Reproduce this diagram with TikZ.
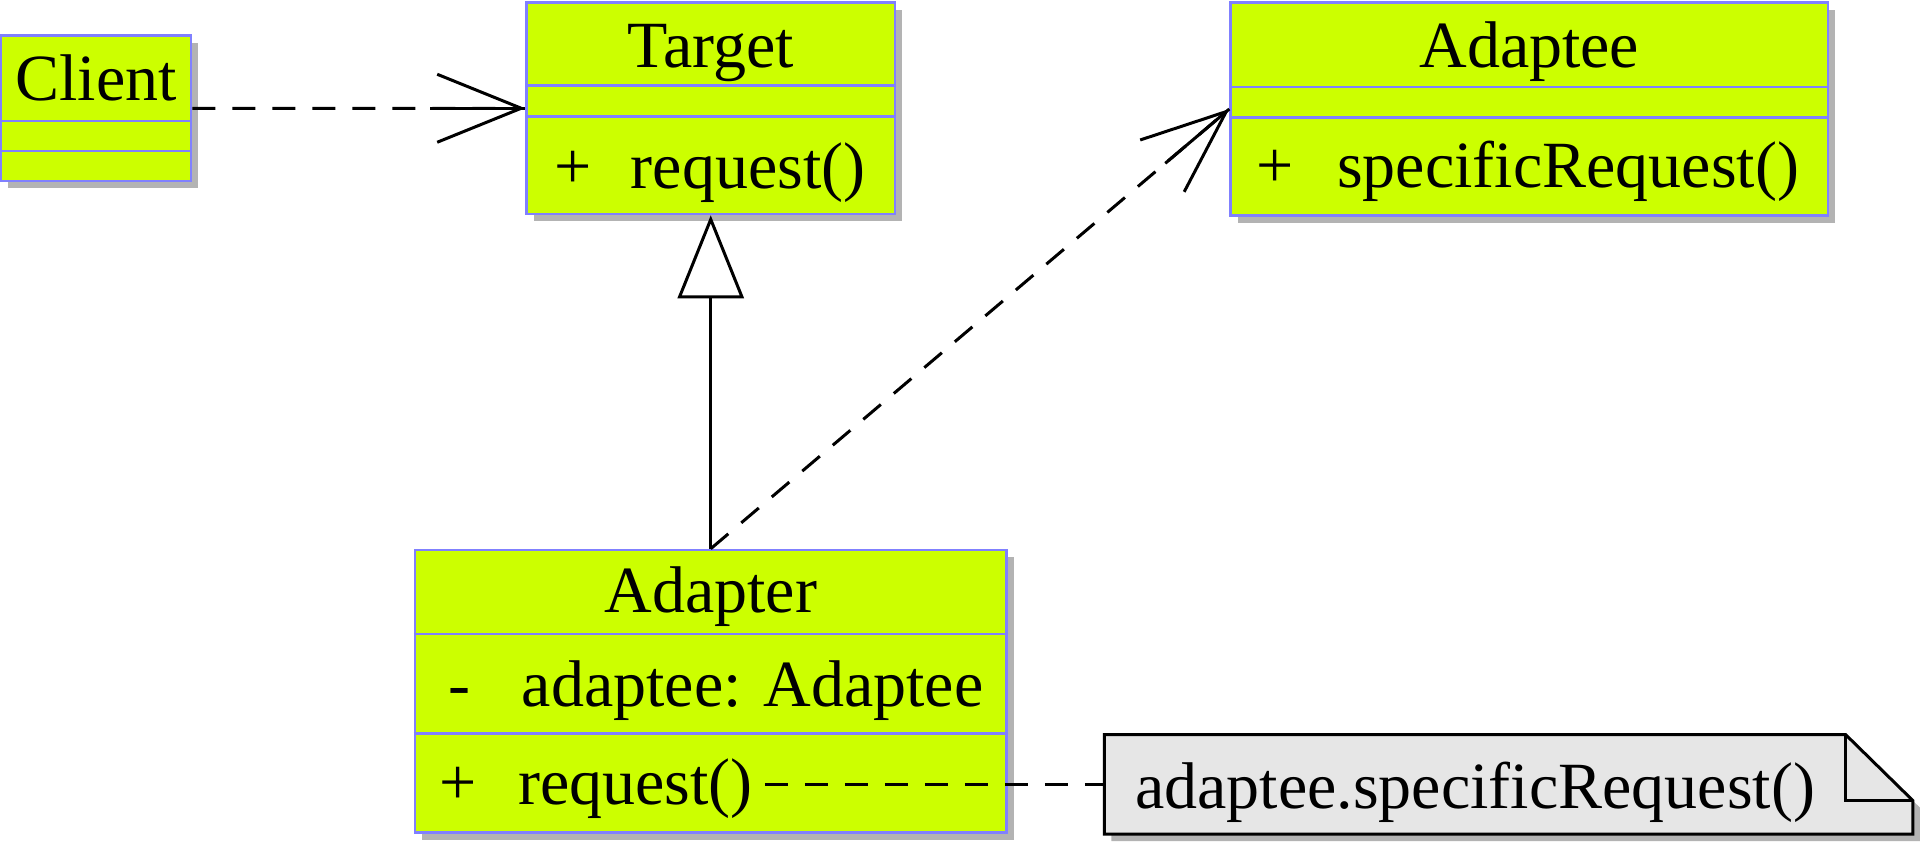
\documentclass[tikz,border=0pt]{standalone}
\usepackage{fontspec}
\setmainfont{Liberation Serif}
\usetikzlibrary{shadows,arrows.meta,calc}
\definecolor{clsfill}{HTML}{CCFF00}
\definecolor{clsborder}{HTML}{8080FF}
\definecolor{notefill}{HTML}{E6E6E6}
\definecolor{shadowgray}{HTML}{B3B3B3}
\begin{document}
\begin{tikzpicture}[x=1pt,y=-1pt,
  classbox/.style={draw=clsborder, fill=clsfill, line width=2.6pt, inner sep=0pt,
    drop shadow={shadow xshift=7pt, shadow yshift=-7pt, fill=shadowgray, opacity=1}},
  sepline/.style={draw=clsborder, line width=2.6pt},
  txt/.style={font=\fontsize{66}{79}\selectfont, inner sep=0pt},
  conn/.style={line width=3pt, black},
  dep/.style={conn, dash pattern=on 23pt off 17pt},
  opentip/.style={-{Straight Barb[length=84pt, width=68pt, line width=3pt]}},
  inherit/.style={-{Triangle[open, length=83pt, width=66pt, line width=3pt, fill=white]}}
]
\useasboundingbox (0,0) rectangle (1920,841);

% Client
\node[classbox, minimum width=190pt, minimum height=145.5pt] (client) at (96,108.3) {};
\draw[sepline] (client.west |- 0,121) -- (client.east |- 0,121);
\draw[sepline] (client.west |- 0,151) -- (client.east |- 0,151);
\node[txt, anchor=base] (clientname) at (96,100.4) {Client};

% Target
\node[classbox, minimum width=368.5pt, minimum height=211.5pt] (target) at (710.75,108.25) {};
\draw[sepline] (target.west |- 0,85.7) -- (target.east |- 0,85.7);
\draw[sepline] (target.west |- 0,116.3) -- (target.east |- 0,116.3);
\node[txt, anchor=base] (targetname) at (710.75,67.3) {Target};
\node[txt, anchor=base] (targetplus) at (573,188.6) {+};
\node[txt, anchor=base west] (targetreq) at (630.6,188.6) {request()};

% Adaptee
\node[classbox, minimum width=597.4pt, minimum height=213pt] (adaptee) at (1529.3,109) {};
\draw[sepline] (adaptee.west |- 0,87) -- (adaptee.east |- 0,87);
\draw[sepline] (adaptee.west |- 0,117.5) -- (adaptee.east |- 0,117.5);
\node[txt, anchor=base] (adapteename) at (1529.3,67.3) {Adaptee};
\node[txt, anchor=base] (adapteeplus) at (1274.7,187.4) {+};
\node[txt, anchor=base west] (adapteereq) at (1337,187.4) {specificRequest()};

% Adapter
\node[classbox, minimum width=591.5pt, minimum height=282.7pt] (adapter) at (710.75,691.35) {};
\draw[sepline] (adapter.west |- 0,634) -- (adapter.east |- 0,634);
\draw[sepline] (adapter.west |- 0,733.5) -- (adapter.east |- 0,733.5);
\node[txt, anchor=base] (adaptername) at (710.75,612.3) {Adapter};
\node[txt, anchor=base] (adapterminus) at (459,706.5) {-};
\node[txt, anchor=base west] (adapterattr) at (521.6,706.5) {adaptee: Adaptee};
\node[txt, anchor=base] (adapterplus) at (458,804.5) {+};
\node[txt, anchor=base west] (adapterreq) at (518,804.5) {request()};

% Note
\node[inner sep=0pt, minimum width=808.2pt, minimum height=99.3pt] (note) at (1508.6,784.35) {};
\fill[shadowgray] ($(note.north west)+(7,7)$) -- ($(note.north east)+(-60.4,7)$)
  -- ($(note.north east)+(7,73.1)$) -- ($(note.south east)+(7,7)$) -- ($(note.south west)+(7,7)$) -- cycle;
\draw[line width=3pt, fill=notefill] (note.north west) -- ($(note.north east)+(-67.4,0)$)
  -- ($(note.north east)+(0,66.1)$) -- (note.south east) -- (note.south west) -- cycle;
\draw[line width=3pt] ($(note.north east)+(-67.4,0)$) -- ($(note.north east)+(-67.4,66.1)$) -- ($(note.north east)+(0,66.1)$);
\node[txt, anchor=base west] (notetext) at (1135,808) {adaptee.specificRequest()};

% Connectors
\draw[dep, opentip] (client.east) -- (target.west);
\draw[conn] ($(target.west)+(-95,0)$) -- (target.west);
\draw[conn, inherit] (adapter.north) -- (target.south);
\draw[dep, opentip] (adapter.north) -- (adaptee.west);
\draw[conn] ($(adaptee.west)!84pt!(adapter.north)$) -- (adaptee.west);
\draw[dep, shorten <=12pt] (adapterreq.east |- note.west) -- (note.west);
\end{tikzpicture}
\end{document}
